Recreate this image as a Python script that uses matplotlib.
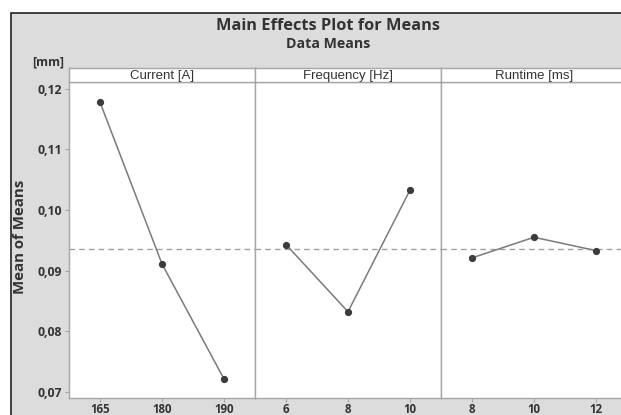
import numpy as np
import matplotlib.pyplot as plt
from matplotlib.patches import Rectangle
from matplotlib.ticker import FuncFormatter

# factor levels and mean responses
factors = ["Current [A]", "Frequency [Hz]", "Runtime [ms]"]
current_levels = ["165", "180", "190"]
current_means = [0.1178, 0.0911, 0.0721]
freq_levels = ["6", "8", "10"]
freq_means = [0.0943, 0.0832, 0.1033]
runtime_levels = ["8", "10", "12"]
runtime_means = [0.0921, 0.0955, 0.0933]
y_ticks = [0.07, 0.08, 0.09, 0.10, 0.11, 0.12]

levels = [current_levels, freq_levels, runtime_levels]
means = [current_means, freq_means, runtime_means]
grand_mean = np.mean(current_means + freq_means + runtime_means)

W, H = 621, 415
fig = plt.figure(figsize=(W / 100, H / 100), dpi=100)
fig.patch.set_facecolor("white")

# gray frame around the whole plot, kept behind the panels
frame = Rectangle((11 / W, -0.1), 2.0, (H - 13.5) / H + 0.1,
                  transform=fig.transFigure, facecolor="#dcdcdc",
                  edgecolor="#222222", linewidth=1.2, zorder=-5)
fig.patches.append(frame)

title_font = ["Open Sans", "DejaVu Sans"]
fig.text(328 / W, 1 - 26.5 / H, "Main Effects Plot for Means", ha="center",
         va="center", fontsize=11.8, fontweight="bold", color="#333333",
         family=title_font)
fig.text(328 / W, 1 - 44 / H, "Data Means", ha="center", va="center",
         fontsize=10.2, fontweight="bold", color="#333333", family=title_font)
fig.text(48 / W, 1 - 62 / H, "[mm]", ha="center", va="center", fontsize=8.8,
         fontweight="bold", color="#333333", family=title_font)
fig.text(20 / W, 1 - 237 / H, "Mean of Means", ha="center", va="center",
         rotation=90, fontsize=10.8, fontweight="bold", color="#333333",
         family=title_font)

left0, panel_w = 69, 186
top, bottom = 82, 398
strip_top = 68
frame_col = "#a6a6a6"

for i, (name, lv, mv) in enumerate(zip(factors, levels, means)):
    x0 = left0 + i * panel_w
    ax = fig.add_axes([x0 / W, (H - bottom) / H, panel_w / W, (bottom - top) / H])
    x = np.arange(len(lv))
    ax.axhline(grand_mean, color="#a0a0a0", linestyle=(0, (4, 3)), linewidth=1.0,
               zorder=1)
    ax.plot(x, mv, color="#7a7a7a", linewidth=1.1, zorder=2)
    ax.plot(x, mv, "o", color="#3c3c3c", markersize=4.2, zorder=3)
    ax.set_xlim(-0.5, len(lv) - 0.5)
    ax.set_ylim(0.06896, 0.12114)
    ax.set_xticks(x)
    ax.set_xticklabels(lv)
    ax.set_yticks(y_ticks)
    for s in ax.spines.values():
        s.set_color(frame_col)
        s.set_linewidth(1.0)
    ax.tick_params(axis="x", length=3, color=frame_col, labelsize=8.3,
                   labelcolor="#333333", pad=0.5)
    for t in ax.get_xticklabels():
        t.set_fontweight("bold")
        t.set_family(title_font)
    if i == 0:
        ax.yaxis.set_major_formatter(FuncFormatter(lambda v, p: f"{v:.2f}".replace(".", ",")))
        ax.tick_params(axis="y", length=3, color=frame_col, labelsize=8.8,
                       labelcolor="#333333", pad=2)
        for t in ax.get_yticklabels():
            t.set_fontweight("bold")
            t.set_family(title_font)
    else:
        ax.tick_params(axis="y", left=False, labelleft=False)

    # panel header strip
    sx = fig.add_axes([x0 / W, (H - top) / H, panel_w / W, (top - strip_top) / H])
    sx.set_xticks([])
    sx.set_yticks([])
    sx.set_facecolor("white")
    for s in sx.spines.values():
        s.set_color(frame_col)
        s.set_linewidth(1.0)
    sx.text(0.5, 0.45, name, transform=sx.transAxes, ha="center", va="center",
            fontsize=9.5, color="#333333", family=["Liberation Sans", "DejaVu Sans"])

fig.savefig("out.png", dpi=100)
